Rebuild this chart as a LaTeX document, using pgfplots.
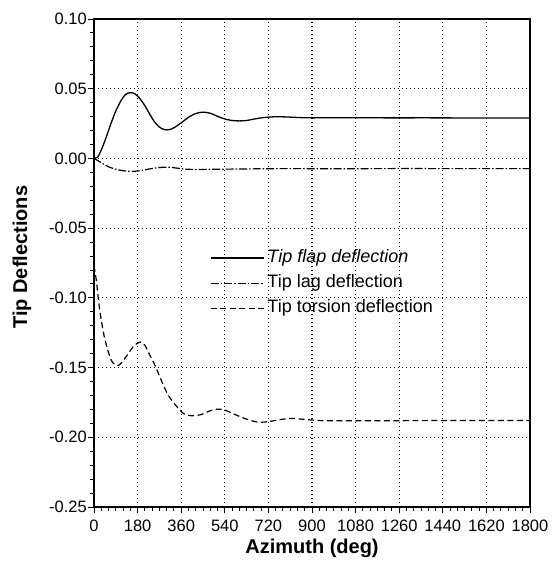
\documentclass[border=0pt]{standalone}
\usepackage{fontspec}
\setmainfont{Liberation Sans}
\usepackage{pgfplots}
\pgfplotsset{compat=1.18}
\begin{document}
\begin{tikzpicture}
\begin{axis}[
  name=ax,
  scale only axis,
  width=436bp, height=488bp,
  xmin=0, xmax=1800, ymin=-0.25, ymax=0.10,
  xtick={0,180,...,1800},
  ytick={-0.25,-0.2,-0.15,-0.1,-0.05,0,0.05,0.1},
  minor x tick num=5,
  minor y tick num=4,
  tick pos=left,
  tick align=outside,
  major tick length=6bp,
  minor tick length=3.5bp,
  every tick/.style={black, line width=0.9bp},
  axis line style={line width=1.3bp},
  grid=major,
  major grid style={black, line width=1.2bp, dash pattern=on 1.2bp off 2.8bp},
  /pgf/number format/assume math mode=true,
  tick label style={font=\fontsize{16.5bp}{18bp}\selectfont},
  xticklabel style={/pgf/number format/1000 sep={}, yshift=-3bp},
  yticklabel style={/pgf/number format/.cd, fixed, fixed zerofill, precision=2, /tikz/inner xsep=1bp},
  xlabel={Azimuth (deg)},
  ylabel={Tip Deflections},
  every axis x label/.style={at={(axis description cs:0.5,-0.084)}, anchor=center, font=\fontsize{20bp}{22bp}\selectfont\bfseries},
  every axis y label/.style={at={(axis description cs:-0.165,0.512)}, anchor=center, rotate=90, font=\fontsize{20bp}{22bp}\selectfont\bfseries},
  legend style={at={(axis description cs:0.266,0.536)}, anchor=north west, draw=none, fill=none,
    inner sep=0pt, row sep=0pt,
    nodes={font=\fontsize{18bp}{20bp}\selectfont, inner ysep=4bp, inner xsep=3bp, text height=13bp, text depth=4bp}},
  legend cell align=left,
  legend image code/.code={\draw[#1] (0bp,0bp) -- (53bp,0bp);},
]
\addplot[black, line width=1.3bp, smooth, tension=0.5] coordinates {
(0,0.000) (15,0.001) (30,0.006) (50,0.015) (70,0.025) (90,0.034) (110,0.041)
(130,0.0458) (150,0.0472) (170,0.0462) (190,0.0428) (210,0.0378) (230,0.0318)
(250,0.0262) (270,0.0225) (290,0.0207) (310,0.0206) (330,0.0220) (360,0.0255)
(390,0.0295) (420,0.0322) (450,0.0332) (480,0.0324) (510,0.0302) (540,0.0283)
(570,0.0272) (600,0.0269) (630,0.0272) (660,0.0282) (700,0.0293) (750,0.0299)
(800,0.0297) (850,0.0293) (900,0.0291) (1000,0.0292) (1100,0.0292) (1200,0.0291)
(1400,0.0291) (1600,0.0290) (1800,0.0290)
};
\addlegendentry{\textit{Tip flap deflection}}
\addplot[black, line width=1.2bp, smooth, tension=0.5, dash pattern=on 8bp off 2bp on 1.5bp off 2bp] coordinates {
(0,0.000) (30,-0.003) (60,-0.006) (100,-0.0082) (140,-0.0092) (170,-0.0092)
(200,-0.0085) (240,-0.0072) (280,-0.0064) (310,-0.0063) (340,-0.0069) (380,-0.0077)
(420,-0.0079) (480,-0.0078) (540,-0.0077) (600,-0.0076) (700,-0.0074) (800,-0.0073)
(1000,-0.0074) (1200,-0.0073) (1500,-0.0073) (1800,-0.0073)
};
\addlegendentry{Tip lag deflection}
\addplot[black, line width=1.2bp, smooth, tension=0.5, dash pattern=on 6bp off 3.5bp] coordinates {
(0,-0.077) (10,-0.088) (23,-0.108) (44,-0.129) (72,-0.145) (100,-0.1485)
(125,-0.144) (141,-0.140) (165,-0.1345) (190,-0.1317) (210,-0.134) (230,-0.141)
(252,-0.1485) (280,-0.160) (307,-0.170) (342,-0.178) (370,-0.1830) (400,-0.1845)
(440,-0.1838) (480,-0.1810) (510,-0.1798) (540,-0.1805) (580,-0.1835) (630,-0.1870)
(680,-0.1892) (730,-0.1885) (780,-0.1870) (820,-0.1865) (870,-0.1872) (930,-0.1880)
(1000,-0.1882) (1200,-0.1881) (1500,-0.1880) (1800,-0.1880)
};
\addlegendentry{Tip torsion deflection}
\end{axis}
\pgfresetboundingbox
\path[use as bounding box] ([xshift=-94bp,yshift=-64bp]ax.south west) rectangle ([xshift=27bp,yshift=19bp]ax.north east);
\end{tikzpicture}
\end{document}
